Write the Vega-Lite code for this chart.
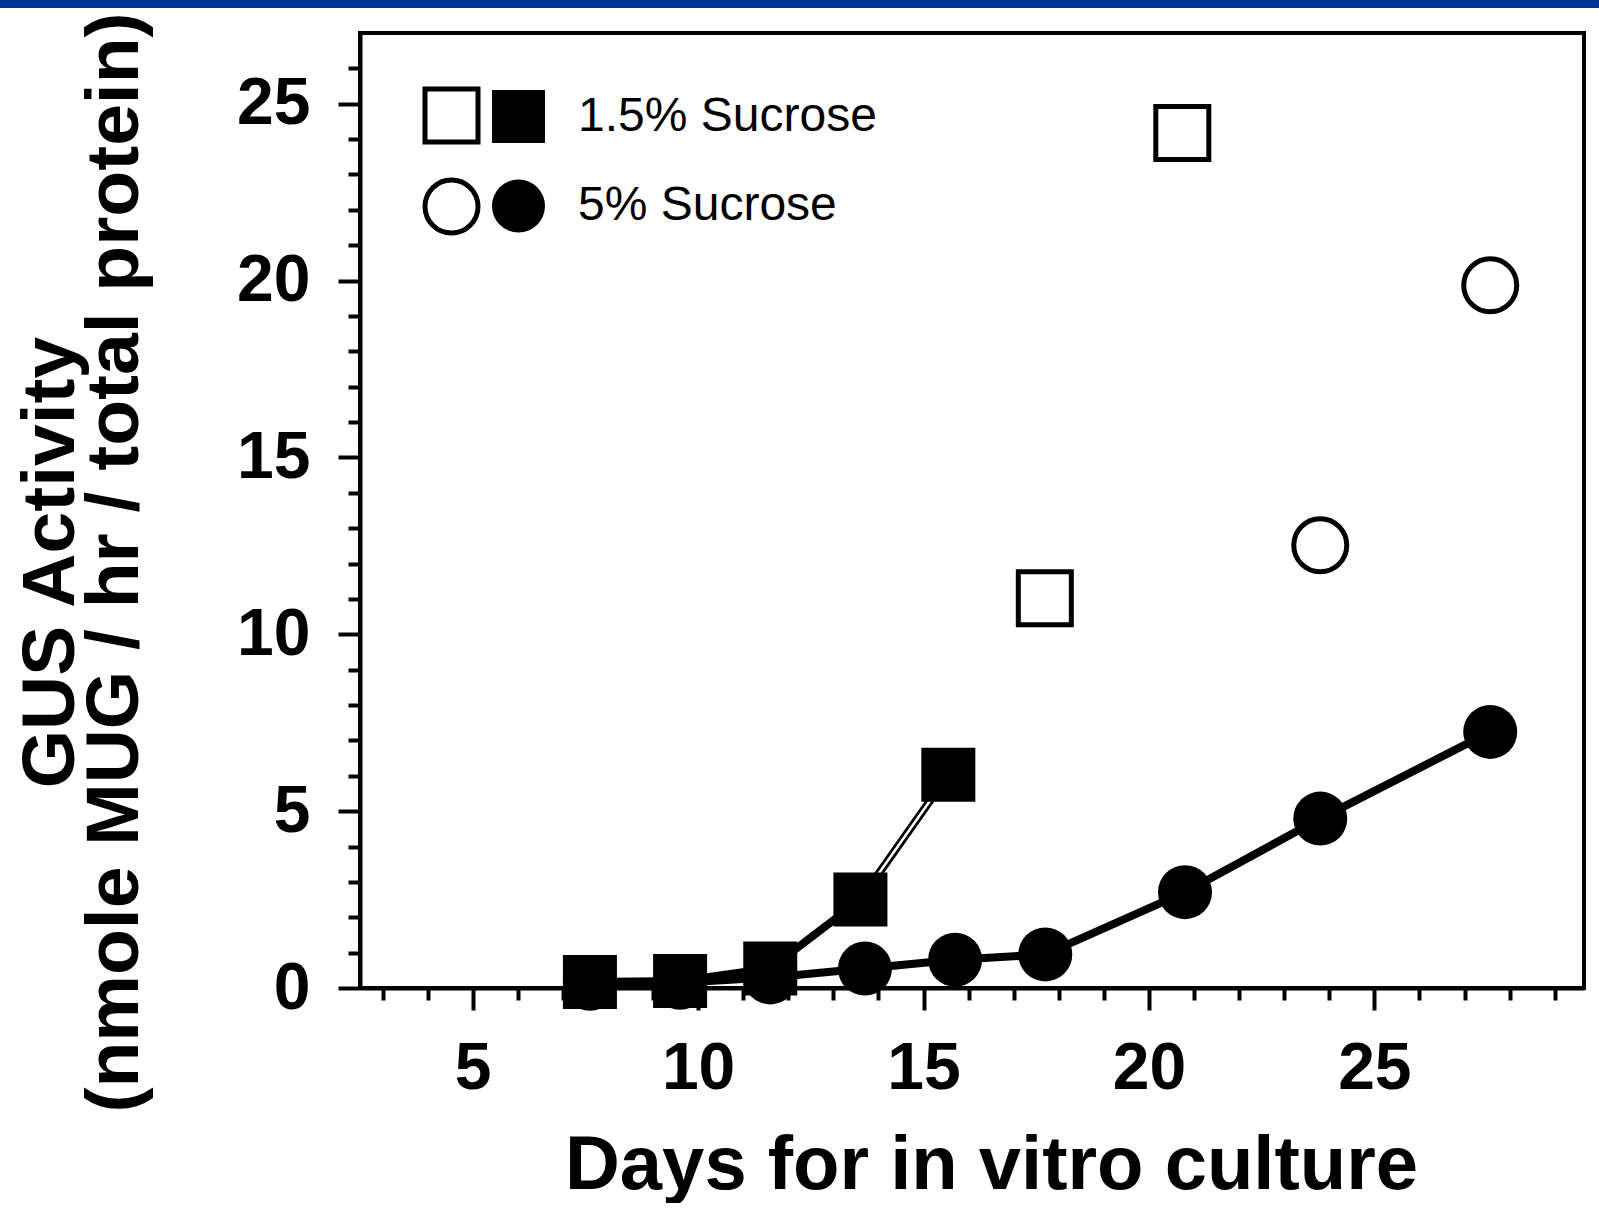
{
  "$schema": "https://vega.github.io/schema/vega-lite/v6.json",
  "width": 1224,
  "height": 955,
  "padding": 0,
  "autosize": {"type": "pad"},
  "background": "white",
  "config": {
    "font": "Liberation Sans",
    "view": {"stroke": "black", "strokeWidth": 4}
  },
  "data": {
    "values": [
      {"day": 7.6, "gus": 0.17, "sucrose": "1.5% Sucrose", "kind": "filled"},
      {"day": 9.6, "gus": 0.2, "sucrose": "1.5% Sucrose", "kind": "filled"},
      {"day": 11.6, "gus": 0.55, "sucrose": "1.5% Sucrose", "kind": "filled"},
      {"day": 13.6, "gus": 2.5, "sucrose": "1.5% Sucrose", "kind": "filled"},
      {"day": 15.55, "gus": 6.03, "sucrose": "1.5% Sucrose", "kind": "filled"},
      {"day": 7.6, "gus": 0.12, "sucrose": "5% Sucrose", "kind": "filled"},
      {"day": 9.6, "gus": 0.15, "sucrose": "5% Sucrose", "kind": "filled"},
      {"day": 11.6, "gus": 0.3, "sucrose": "5% Sucrose", "kind": "filled"},
      {"day": 13.7, "gus": 0.55, "sucrose": "5% Sucrose", "kind": "filled"},
      {"day": 15.7, "gus": 0.8, "sucrose": "5% Sucrose", "kind": "filled"},
      {"day": 17.7, "gus": 0.95, "sucrose": "5% Sucrose", "kind": "filled"},
      {"day": 20.8, "gus": 2.71, "sucrose": "5% Sucrose", "kind": "filled"},
      {"day": 23.8, "gus": 4.79, "sucrose": "5% Sucrose", "kind": "filled"},
      {"day": 27.57, "gus": 7.24, "sucrose": "5% Sucrose", "kind": "filled"},
      {"day": 17.69, "gus": 11.02, "sucrose": "1.5% Sucrose", "kind": "open"},
      {"day": 20.74, "gus": 24.17, "sucrose": "1.5% Sucrose", "kind": "open"},
      {"day": 23.8, "gus": 12.52, "sucrose": "5% Sucrose", "kind": "open"},
      {"day": 27.57, "gus": 19.87, "sucrose": "5% Sucrose", "kind": "open"}
    ]
  },
  "layer": [
    {
      "mark": {"type": "point", "opacity": 0, "filled": true},
      "encoding": {
        "x": {"field": "day", "type": "quantitative", "scale": {"domain": [2.5, 29.65], "nice": false, "zero": false},
          "axis": {"orient": "bottom", "values": [3,4,6,7,8,9,11,12,13,14,16,17,18,19,21,22,23,24,26,27,28,29], "labels": false, "domain": false, "grid": false, "tickSize": 12, "tickWidth": 4, "tickColor": "black", "title": null}},
        "y": {"field": "gus", "type": "quantitative", "scale": {"domain": [0, 27], "nice": false},
          "axis": {"orient": "left", "values": [1,2,3,4,6,7,8,9,11,12,13,14,16,17,18,19,21,22,23,24,26], "labels": false, "domain": false, "grid": false, "tickSize": 12, "tickWidth": 4, "tickColor": "black", "title": null}},
        "color": {"field": "gus", "type": "quantitative", "scale": {"range": ["#003399", "#003399"]},
          "legend": {"orient": "none", "legendX": -360, "legendY": -33, "direction": "horizontal", "gradientLength": 1599, "gradientThickness": 8, "gradientStrokeWidth": 0, "title": null, "values": [], "padding": 0}}
      }
    },
    {
      "transform": [{"filter": "datum.kind === 'filled'"}],
      "mark": {"type": "line", "color": "black", "strokeWidth": 8},
      "encoding": {
        "x": {"field": "day", "type": "quantitative", "scale": {"domain": [2.5, 29.65], "nice": false, "zero": false},
          "axis": {"orient": "bottom", "values": [5, 10, 15, 20, 25], "grid": false, "tickSize": 22, "tickWidth": 4, "tickColor": "black", "domainColor": "black", "domainWidth": 4,
            "labelFontSize": 66, "labelFontWeight": "bold", "labelColor": "black", "labelPadding": 26, "labelFont": "Liberation Sans",
            "title": "Days for in vitro culture", "titleFontSize": 76, "titleFontWeight": "bold", "titleColor": "black", "titleFont": "Liberation Sans", "titleBaseline": "alphabetic", "titleX": 631, "titleY": 200}},
        "y": {"field": "gus", "type": "quantitative", "scale": {"domain": [0, 27], "nice": false},
          "axis": {"orient": "left", "values": [0, 5, 10, 15, 20, 25], "grid": false, "tickSize": 22, "tickWidth": 4, "tickColor": "black", "domainColor": "black", "domainWidth": 4,
            "labelFontSize": 66, "labelFontWeight": "bold", "labelColor": "black", "labelPadding": 28, "labelFont": "Liberation Sans",
            "title": ["GUS Activity", "(nmole MUG / hr / total protein)"], "titleFontSize": 75, "titleFontWeight": "bold", "titleColor": "black", "titleFont": "Liberation Sans",
            "titleBaseline": "alphabetic", "titleX": -287, "titleY": 529, "titleLineHeight": 64, "titleAngle": 270}},
        "detail": {"field": "sucrose", "type": "nominal"}
      }
    },
    {
      "transform": [{"filter": "datum.kind === 'filled' && datum.sucrose === '1.5% Sucrose' && datum.day > 13"}],
      "mark": {"type": "line", "color": "white", "strokeWidth": 2.5},
      "encoding": {
        "x": {"field": "day", "type": "quantitative", "scale": {"domain": [2.5, 29.65], "nice": false, "zero": false}, "axis": null},
        "y": {"field": "gus", "type": "quantitative", "scale": {"domain": [0, 27], "nice": false}, "axis": null}
      }
    },
    {
      "transform": [{"filter": "datum.kind === 'open'"}],
      "mark": {"type": "point", "filled": false, "color": "black", "strokeWidth": 5, "size": 2809, "opacity": 1},
      "encoding": {
        "x": {"field": "day", "type": "quantitative", "scale": {"domain": [2.5, 29.65], "nice": false, "zero": false}, "axis": null},
        "y": {"field": "gus", "type": "quantitative", "scale": {"domain": [0, 27], "nice": false}, "axis": null},
        "shape": {"field": "sucrose", "type": "nominal", "scale": {"domain": ["1.5% Sucrose", "5% Sucrose"], "range": ["square", "circle"]},
          "legend": {"orient": "none", "legendX": 62.5, "legendY": 53.5, "title": null, "padding": 0, "symbolSize": 2809, "symbolStrokeWidth": 5, "symbolStrokeColor": "black", "symbolFillColor": "white", "labelExpr": "''", "labelFontSize": 10, "rowPadding": 17}}
      }
    },
    {
      "transform": [{"filter": "datum.kind === 'filled'"}],
      "mark": {"type": "point", "filled": true, "color": "black", "opacity": 1, "size": 2916},
      "encoding": {
        "x": {"field": "day", "type": "quantitative", "scale": {"domain": [2.5, 29.65], "nice": false, "zero": false}, "axis": null},
        "y": {"field": "gus", "type": "quantitative", "scale": {"domain": [0, 27], "nice": false}, "axis": null},
        "shape": {"field": "sucrose", "type": "nominal", "scale": {"domain": ["1.5% Sucrose", "5% Sucrose"], "range": ["square", "circle"]},
          "legend": {"orient": "none", "legendX": 131, "legendY": 56, "title": null, "padding": 0, "symbolSize": 2809, "symbolFillColor": "black", "symbolStrokeColor": "black", "symbolStrokeWidth": 1.5,
            "labelFontSize": 48, "labelFont": "Liberation Sans", "labelColor": "black", "labelOffset": 32, "labelLimit": 0, "rowPadding": 30.5}}
      }
    }
  ],
  "resolve": {
    "scale": {"shape": "independent", "color": "independent"},
    "legend": {"shape": "independent"},
    "axis": {"x": "independent", "y": "independent"}
  }
}
